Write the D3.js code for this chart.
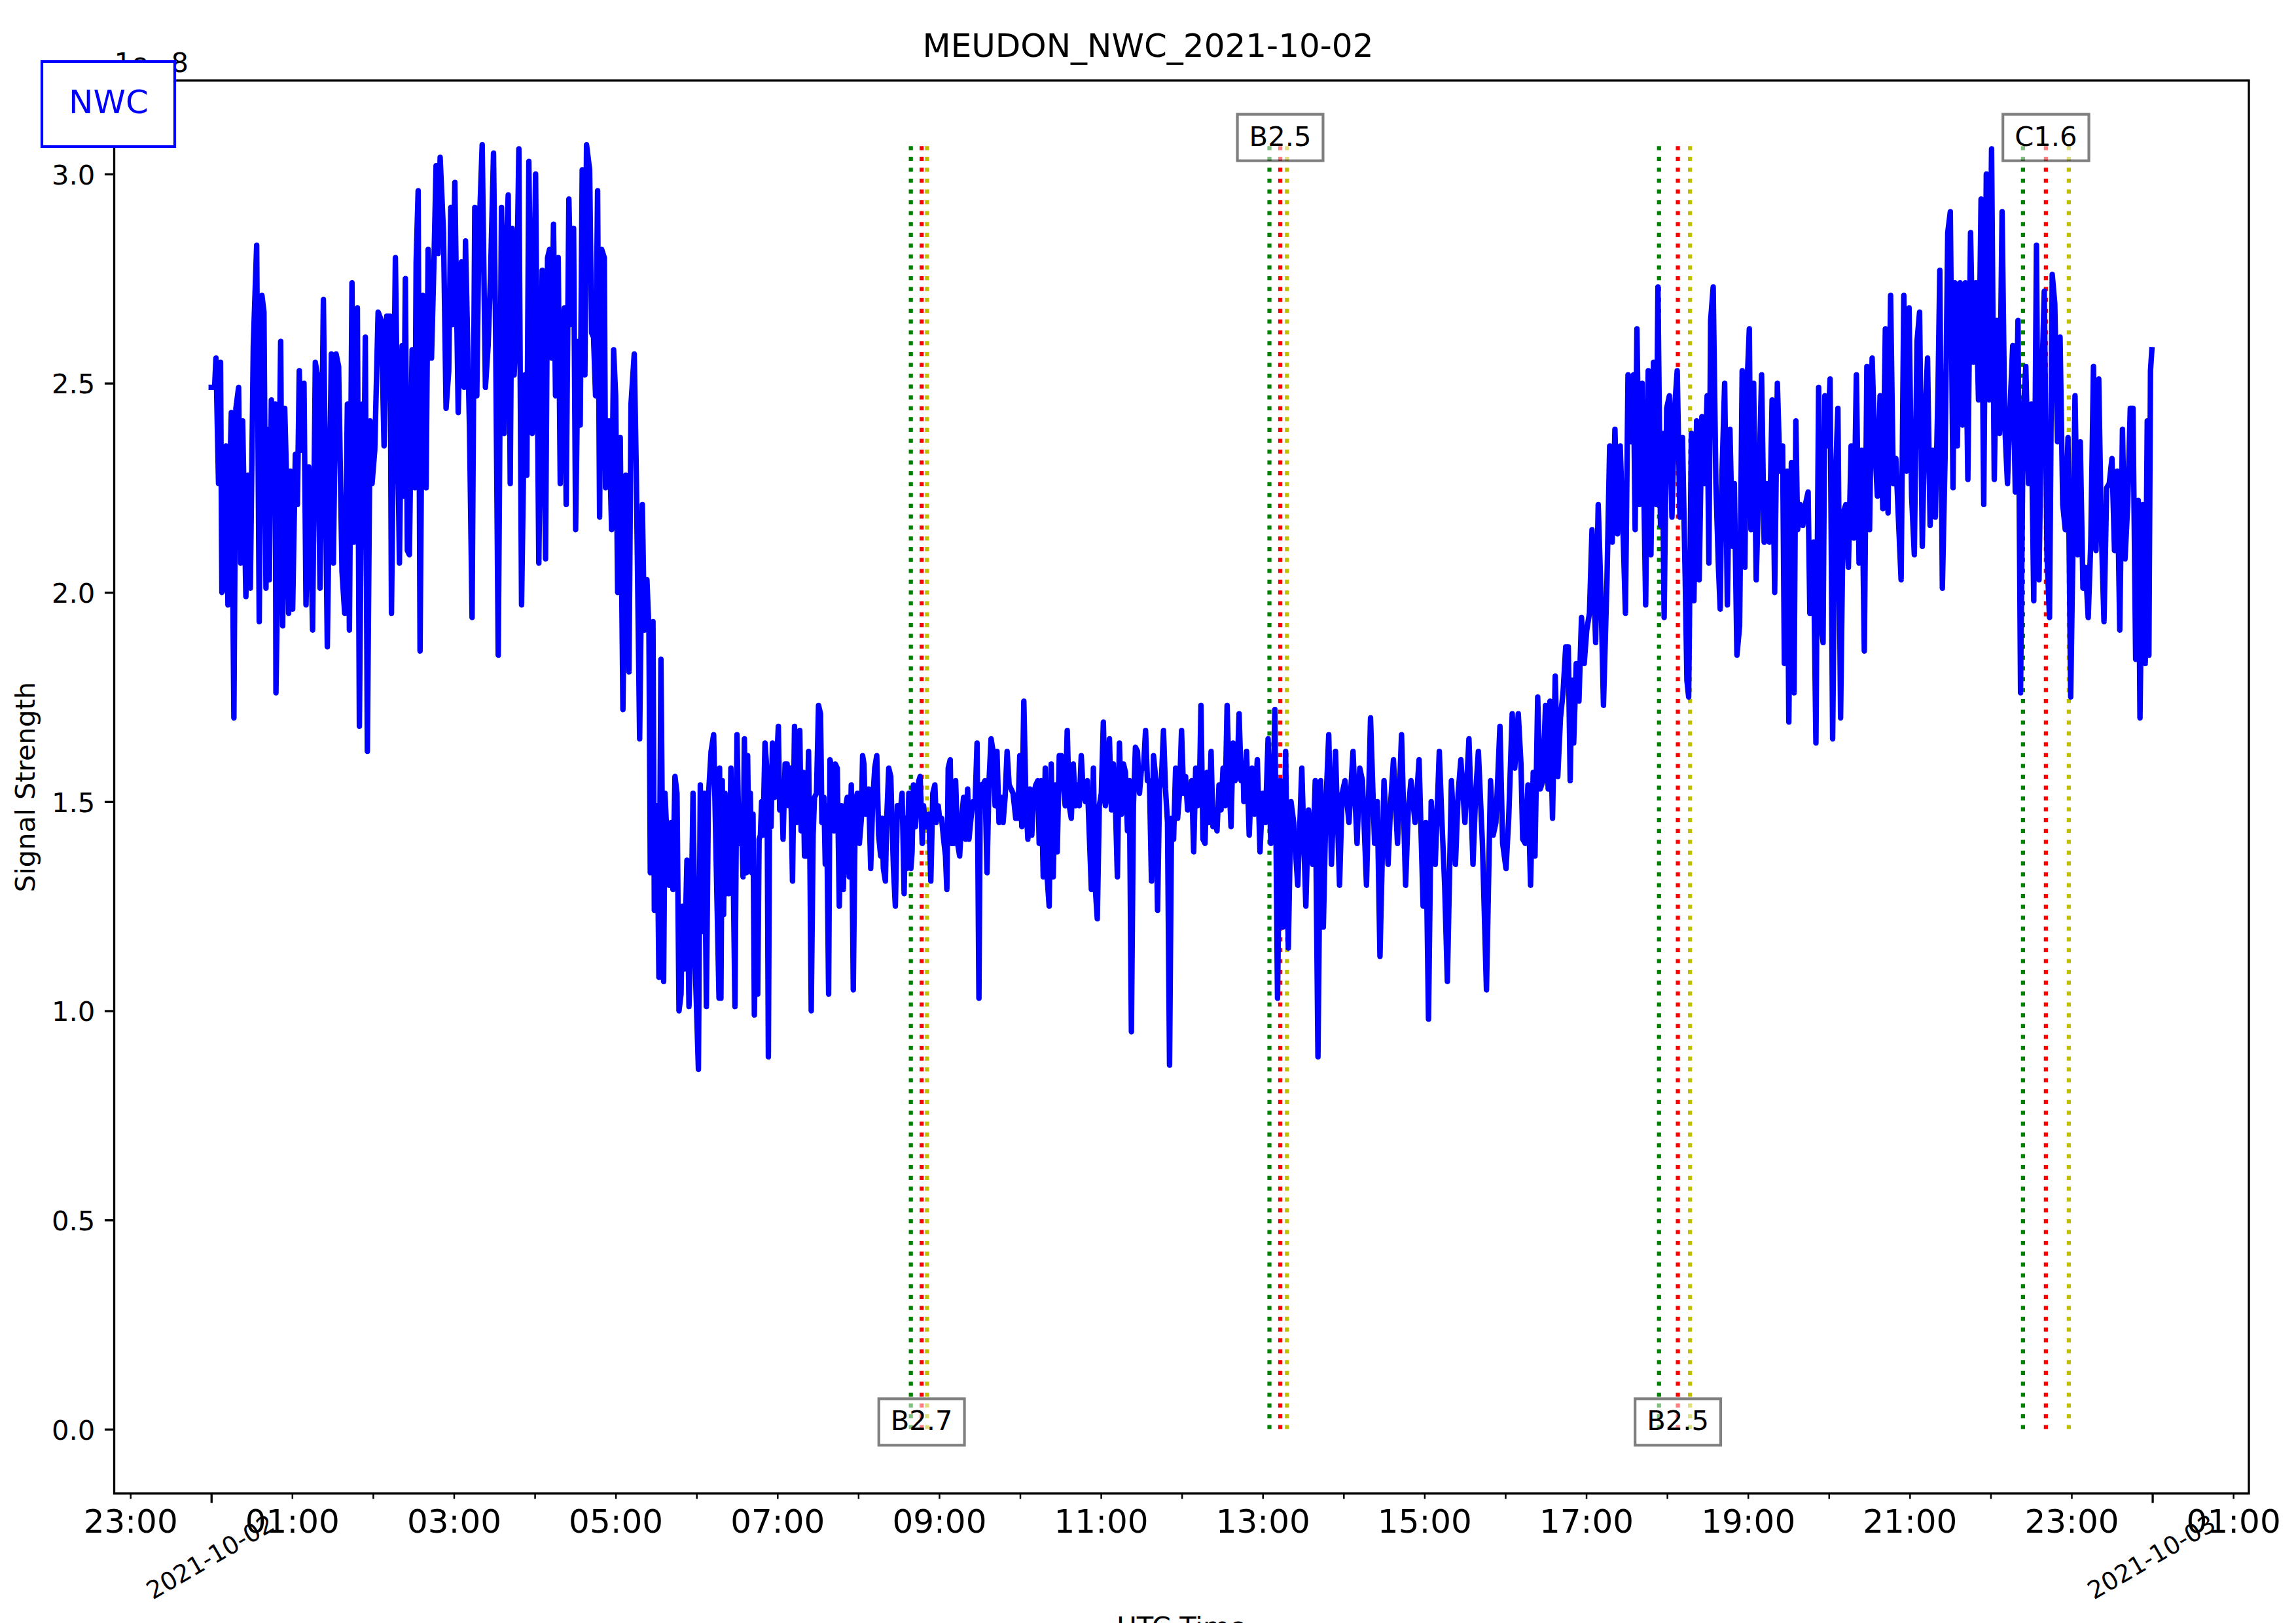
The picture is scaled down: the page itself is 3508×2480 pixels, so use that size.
<!DOCTYPE html>
<html>
<head>
<meta charset="utf-8">
<script src="https://cdn.jsdelivr.net/npm/d3@7"></script>
<style>
  html, body { margin: 0; padding: 0; background: #ffffff; }
  svg { display: block; }
  text { font-family: "DejaVu Sans", "Liberation Sans", sans-serif; }
</style>
</head>
<body>
<svg id="chart" width="3508" height="2480"></svg>
<script>
// ---------------- DATA ----------------
const chartTitle = "MEUDON_NWC_2021-10-02";
const stationName = "NWC";
const dayStartUTC = "2021-10-02T00:00:00Z";
const xAxisLabel = "UTC Time";
const yAxisLabel = "Signal Strength";
const yOffsetLabel = "1e\u22128";
const yTickValues = [0.0, 0.5, 1.0, 1.5, 2.0, 2.5, 3.0];

// samples: [minutes after 00:00 UTC, signal in units of 1e-8]
const samplesNight = [
[0,2.49],[2.5,2.49],[3.5,2.56],[4.5,2.40],[5.4,2.26],[6.9,2.55],[7.9,2.00],[9.4,2.01],[10.9,2.35],[12.4,1.97],
[13.4,2.23],[14.9,2.43],[16.8,1.70],[18.3,2.44],[20.3,2.49],[21.8,2.07],[23.3,2.41],[25.7,1.99],[27.2,2.28],[29.0,2.01],
[31.2,2.59],[33.7,2.83],[35.6,1.93],[37.6,2.71],[39.1,2.67],[40.6,2.01],[41.6,2.39],[43.1,2.03],[44.6,2.46],[46.0,2.28],
[47.5,2.45],[48.0,1.76],[50.0,2.19],[51.5,2.60],[53.0,1.92],[54.5,2.44],[56.2,2.23],[57.4,1.95],[58.7,2.29],[60.4,1.96],
[62.4,2.33],[63.9,2.21],[65.3,2.53],[66.8,2.34],[68.8,2.50],[70.3,1.97],[72.3,2.30],[73.8,2.13],[75.2,1.91],[77.2,2.55],
[78.7,2.52],[80.7,2.01],[83.2,2.70],[86.1,1.87],[89.1,2.57],[90.6,2.07],[92.6,2.57],[94.5,2.54],[97.0,2.05],[99.0,1.95],
[101.0,2.45],[102.5,1.91],[104.4,2.74],[105.9,2.12],[108.4,2.68],[109.9,1.68],[111.9,2.45],[112.9,2.15],[114.3,2.61],[115.8,1.62],
[117.8,2.41],[119.3,2.26],[121.3,2.34],[123.8,2.67],[126.2,2.65],[128.2,2.35],[130.2,2.66],[132.7,2.66],[133.7,1.95],[136.6,2.80],
[139.6,2.07],[141.6,2.59],[142.6,2.23],[144.0,2.75],[145.5,2.10],[147.0,2.09],[149.0,2.58],[151.0,2.25],[152.0,2.79],[153.5,2.96],
[154.9,1.86],[156.9,2.71],[159.4,2.25],[160.9,2.82],[163.4,2.56],[165.3,2.80],[166.8,3.02],[168.3,2.81],[169.8,3.04],[172.3,2.86],
[174.2,2.44],[176.2,2.53],[177.7,2.92],[179.2,2.64],[180.7,2.98],[183.2,2.43],[185.6,2.79],[187.6,2.49],[188.6,2.84],[191.6,2.39],
[193.5,1.94],[195.5,2.92],[197.0,2.47],[198.5,2.84],[201.0,3.07],[203.4,2.49],[205.4,2.59],[207.2,2.76],[209.4,3.05],[210.9,2.64],
[212.9,1.85],[215.3,2.92],[217.3,2.38],[218.8,2.81],[220.3,2.95],[221.8,2.26],[223.2,2.87],[224.7,2.52],[226.2,2.63],[228.2,3.06],
[230.2,1.97],[232.7,2.52],[234.1,2.28],[235.6,3.03],[238.1,2.38],[240.6,3.00],[243.0,2.07],[245.5,2.77],[248.0,2.08],[249.5,2.80],
[251.0,2.82],[252.5,2.56],[253.9,2.88],[255.4,2.47],[257.4,2.80],[258.9,2.26],[260.4,2.58],[261.9,2.68],[263.3,2.21],[265.3,2.94],
[267.3,2.64],[268.8,2.87],[270.3,2.15],[272.2,2.60],[273.7,2.40],[275.2,3.01],[277.2,2.52],[278.4,3.07],[280.7,3.01],[282.2,2.62],
[283.6,2.61],[285.1,2.47],[286.6,2.96],[288.1,2.18],[289.6,2.82],[291.6,2.80],[292.5,2.25],[295.0,2.41],[297.0,2.15],[298.5,2.58],
[300.0,2.47],[301.5,2.00],[303.4,2.37],[305.4,1.72],[307.4,2.28],[309.9,1.81],[311.4,2.45],[313.8,2.57],[315.3,2.29],[317.8,1.65],
[319.8,2.21],[321.3,1.91],[323.2,2.03],[324.7,1.91],[325.7,1.33],[327.7,1.93],[328.7,1.24],[330.7,1.49],[332.1,1.08],[333.6,1.84],
[335.6,1.07],[336.6,1.52],[339.6,1.30],[341.1,1.45],[342.5,1.29],[344.0,1.56],[345.5,1.52],[347.0,1.00],[348.5,1.04],[349.5,1.25],
[351.0,1.10],[352.9,1.36],[354.4,1.01],[355.9,1.19],[357.4,1.52],[359.4,1.07],[361.4,0.86],[362.8,1.54],[364.3,1.19],[365.8,1.52],
[367.3,1.01],[368.8,1.51],[370.8,1.62],[372.7,1.66],[374.7,1.34],[376.7,1.03]
];

const samplesMorning = [
[377.1,1.58],[378.1,1.03],[379.1,1.55],[380.1,1.23],[381.1,1.52],[382.1,1.28],[383.1,1.49],[384.0,1.28],[385.5,1.58],[387.0,1.39],
[388.5,1.01],[390.0,1.66],[391.5,1.40],[393.0,1.49],[394.5,1.32],[395.5,1.65],[397.0,1.33],[397.9,1.61],[398.9,1.36],[399.9,1.52],
[400.9,1.33],[401.9,1.47],[402.9,0.99],[403.9,1.23],[405.4,1.04],[406.4,1.41],[407.4,1.42],[408.3,1.50],[409.3,1.42],[410.8,1.64],
[412.3,1.57],[413.3,0.89],[414.3,1.57],[415.3,1.44],[416.3,1.64],[417.8,1.51],[419.3,1.58],[420.7,1.68],[421.7,1.48],[423.2,1.54],
[424.2,1.41],[425.7,1.59],[427.2,1.59],[428.2,1.49],[429.7,1.58],[431.2,1.31],[432.7,1.68],[434.1,1.45],[435.6,1.61],[436.6,1.67],
[437.6,1.43],[439.1,1.57],[440.1,1.37],[441.6,1.37],[443.1,1.62],[444.1,1.37],[445.1,1.00],[446.5,1.42],[447.5,1.51],[449.0,1.52],
[450.5,1.73],[452.0,1.71],[453.0,1.45],[454.5,1.51],[455.5,1.35],[456.5,1.49],[458.0,1.04],[459.0,1.60],[460.4,1.58],[461.9,1.43],
[462.9,1.59],[464.4,1.58],[465.9,1.25],[467.4,1.49],[468.9,1.29],[470.3,1.48],[471.8,1.51],[473.3,1.32],[474.8,1.54],[476.3,1.05],
[477.8,1.50],[479.3,1.52],[480.8,1.40],[482.3,1.46],[483.2,1.61],[484.2,1.59],[485.2,1.47],[486.7,1.50],[487.7,1.53],[489.2,1.34],
[490.7,1.50],[492.2,1.58],[493.7,1.61],[495.1,1.42],[496.6,1.37],[497.6,1.46],[498.6,1.34],[500.1,1.31],[501.1,1.46],[502.6,1.58],
[504.1,1.56],[505.1,1.44],[506.1,1.34],[507.5,1.25],[509.0,1.49],[510.0,1.49],[511.0,1.47],[512.5,1.52],[514.0,1.28],[515.0,1.46],
[516.0,1.34],[517.5,1.52],[519.0,1.34],[519.9,1.38],[520.9,1.54],[522.4,1.44],[523.4,1.50],[524.9,1.55],[525.9,1.56],[527.4,1.40],
[528.4,1.49],[529.9,1.44],[530.9,1.46],[532.4,1.47],[533.8,1.31],[535.3,1.52],[536.8,1.54],[537.8,1.45],[539.3,1.49],[540.3,1.46],
[541.8,1.46],[543.3,1.41],[544.7,1.37],[545.7,1.29],[546.7,1.58],[548.2,1.60],[549.2,1.40],[550.7,1.40],[552.2,1.55],[553.7,1.40],
[555.2,1.37],[556.7,1.46],[558.1,1.51],[559.6,1.41],[561.1,1.53],[562.1,1.41],[563.6,1.46],[565.1,1.50],[566.6,1.49],[568.1,1.64],
[569.5,1.03],[570.5,1.54],[572.5,1.54],[574.0,1.55],[575.5,1.33],[577.0,1.55],[578.5,1.65],[580.0,1.62],[581.5,1.49],[582.9,1.62],
[584.4,1.45],[585.9,1.51],[587.4,1.45],[588.9,1.51],[590.4,1.62],[591.9,1.54],[593.4,1.53],[594.8,1.52],[596.8,1.46],[598.3,1.46],
[599.8,1.61],[601.3,1.44],[602.8,1.74],[604.3,1.51],[605.8,1.41],[607.2,1.53],[608.7,1.42],[610.2,1.52],[611.7,1.54],[613.2,1.55],
[614.2,1.40],[615.7,1.55],[617.2,1.32],[618.7,1.58],[620.1,1.32],[621.6,1.25],[623.1,1.59],[624.6,1.32],[626.1,1.54],[627.6,1.38],
[629.1,1.61],[630.6,1.61],[632.0,1.55],[633.5,1.49],[635.0,1.67],[636.5,1.49],[638.0,1.46],[639.5,1.59],[641.0,1.49],[642.5,1.54],
[643.9,1.49],[645.4,1.61],[646.9,1.52],[648.4,1.50],[649.9,1.55],[651.4,1.42],[652.9,1.29],[654.4,1.58],[655.9,1.29],[657.3,1.22],
[658.8,1.49],[660.3,1.52],[661.8,1.69],[663.3,1.49],[664.8,1.53],[666.3,1.65],[667.8,1.48],[669.2,1.59],[670.7,1.50],[672.2,1.32],
[673.7,1.64],[675.2,1.47],[676.7,1.59],[678.2,1.57],[679.7,1.43],[681.1,1.55],[682.6,0.95],[684.1,1.49],[685.6,1.63],[687.1,1.62],
[688.6,1.52],[690.1,1.58],[691.6,1.58],[693.1,1.67],[694.5,1.55],[696.0,1.55],[697.5,1.31],[699.0,1.61],[700.5,1.56],[702.0,1.24],
[703.5,1.53],[705.0,1.56],[706.4,1.67],[707.9,1.53],[709.4,1.45],[710.9,0.87],[712.4,1.46],[713.9,1.41],[715.4,1.58],[716.9,1.46],
[718.3,1.52],[719.8,1.67],[721.3,1.52],[722.8,1.56],[724.3,1.48],[725.8,1.50],[727.3,1.55],[728.8,1.38],[730.3,1.58],[731.7,1.49],
[733.2,1.55],[734.2,1.73],[735.7,1.41],[737.2,1.40],[738.7,1.57],[740.2,1.45],[741.7,1.62],[743.1,1.44],[744.6,1.48],[746.1,1.43],
[747.6,1.54],[749.1,1.48],[750.6,1.58],[752.1,1.49],[753.6,1.73],[755.1,1.55],[756.5,1.44],[758.0,1.64],[759.5,1.55],[761.0,1.56],
[762.5,1.71],[764.0,1.55],[765.5,1.58]
];

const samplesAfternoon = [
[766,1.50],[768,1.62],[770,1.42],[772,1.58],[774,1.47],[776,1.60],[778,1.38],[780,1.52],[782,1.45],[784,1.65],
[786,1.40],[788,1.55],[789,1.72],[791,1.03],[793,1.55],[795,1.20],[797,1.62],[799,1.15],[801,1.50],[803,1.45],
[806,1.30],[809,1.58],[812,1.25],[814,1.48],[817,1.35],[819,1.55],[821,0.89],[823,1.55],[825,1.20],[827,1.50],
[829,1.66],[831,1.35],[834,1.62],[837,1.30],[839,1.52],[841,1.55],[844,1.45],[847,1.62],[850,1.40],[852,1.58],
[854,1.55],[857,1.30],[860,1.70],[863,1.40],[865,1.50],[867,1.13],[870,1.55],[873,1.35],[875,1.50],[877,1.60],
[880,1.40],[883,1.66],[886,1.30],[888,1.48],[890,1.55],[893,1.45],[896,1.60],[899,1.25],[901,1.45],[903,0.98],
[905,1.50],[908,1.35],[911,1.62],[913,1.45],[915,1.30],[917,1.07],[920,1.55],[923,1.35],[925,1.52],[927,1.60],
[930,1.45],[933,1.65],[936,1.35],[938,1.52],[940,1.62],[943,1.40],[946,1.05],[949,1.55],[951,1.42],[953,1.45],
[956,1.68],[958,1.40]
];

const samplesEvening = [
[960.5,1.34],[962.5,1.46],[965.1,1.71],[967.0,1.58],[969.6,1.71],[971.6,1.59],[972.9,1.41],[974.8,1.40],[976.8,1.54],[978.7,1.30],
[980.7,1.57],[982.0,1.37],[984.0,1.75],[985.9,1.53],[987.9,1.55],[989.8,1.73],[991.8,1.53],[993.1,1.74],[995.0,1.46],[997.0,1.80],
[998.9,1.56],[1000.9,1.70],[1002.8,1.76],[1004.8,1.87],[1006.7,1.87],[1008.1,1.55],[1009.4,1.79],[1010.7,1.64],[1012.6,1.83],[1014.6,1.74],
[1016.5,1.94],[1018.5,1.83],[1020.4,1.91],[1022.4,1.95],[1024.3,2.15],[1027.0,1.88],[1028.9,2.21],[1030.9,2.00],[1032.8,1.73],[1035.4,2.03],
[1037.4,2.35],[1039.3,2.12],[1041.3,2.39],[1043.2,2.14],[1045.2,2.35],[1047.1,2.17],[1049.1,1.95],[1051.0,2.52],[1053.0,2.36],[1055.0,2.52],
[1056.3,2.15],[1057.6,2.63],[1059.5,2.21],[1061.5,2.50],[1064.1,1.97],[1066.0,2.53],[1068.0,2.09],[1069.9,2.55],[1071.9,2.21],[1073.2,2.73],
[1075.1,2.16],[1076.4,2.38],[1077.8,1.94],[1079.7,2.44],[1081.7,2.47],[1083.6,2.18],[1085.6,2.44],[1087.5,2.53],[1089.5,2.18],[1091.4,2.37],
[1093.4,2.04],[1094.7,1.79],[1096.0,1.75],[1098.0,2.38],[1099.9,1.98],[1101.9,2.41],[1103.8,2.03],[1105.8,2.42],[1107.7,2.26],[1109.7,2.47],
[1111.0,2.07],[1112.3,2.65],[1114.2,2.73],[1116.2,2.26],[1118.1,2.06],[1119.4,1.96],[1120.7,2.28],[1122.7,2.50],[1124.7,1.97],[1126.6,2.39],
[1128.6,2.11],[1129.9,2.26],[1131.8,1.85],[1133.8,1.92],[1135.7,2.53],[1137.7,2.06],[1139.0,2.47],[1141.0,2.63],[1142.2,2.15],[1144.2,2.50],
[1146.1,2.03],[1148.1,2.26],[1150.1,2.52],[1152.0,2.12],[1154.0,2.26],[1155.9,2.12],[1157.9,2.46],[1159.8,2.00],[1161.8,2.50],[1163.7,2.29],
[1165.7,2.35],[1167.0,1.83],[1169.0,2.29],[1170.3,1.69],[1172.2,2.31],[1174.2,1.76],[1175.5,2.41],[1176.8,2.15],[1178.7,2.21],[1180.7,2.16],
[1182.6,2.21],[1184.6,2.24],[1185.9,1.95],[1188.5,2.12],[1190.4,1.64],[1192.4,2.49],[1194.4,1.92],[1195.7,1.88],[1197.0,2.47],[1198.9,2.35],
[1200.9,2.51],[1202.8,1.65],[1204.8,2.26],[1206.7,2.44],[1208.7,1.70],[1210.6,2.19],[1212.6,2.21],[1214.5,2.06],[1216.5,2.35],[1218.5,2.13],
[1220.4,2.52],[1222.4,2.07],[1224.3,2.34],[1226.3,1.86],[1228.2,2.54],[1230.2,2.15],[1232.1,2.56],[1234.1,2.35],[1236.0,2.23],[1238.0,2.47],
[1240.0,2.20],[1241.9,2.63],[1243.9,2.19],[1245.8,2.71],[1247.8,2.26],[1249.7,2.32],[1251.7,2.17],[1253.6,2.03],[1255.6,2.71],[1257.5,2.29],
[1259.5,2.68],[1261.4,2.23],[1263.4,2.09],[1265.4,2.60],[1267.3,2.67],[1269.3,2.11],[1271.2,2.41],[1273.2,2.56],[1275.1,2.16],[1277.1,2.34],
[1279.0,2.18],[1281.0,2.49],[1282.3,2.77],[1284.2,2.01],[1286.2,2.32],[1288.2,2.86],[1290.1,2.91],[1292.1,2.25],[1293.4,2.74],[1295.3,2.35],
[1297.3,2.74],[1299.2,2.40],[1301.2,2.74],[1303.1,2.27],[1305.1,2.86],[1307.0,2.55],[1309.0,2.74],[1311.0,2.46],[1312.9,2.94],[1314.9,2.21],
[1316.8,3.00],[1318.8,2.46],[1320.7,3.06],[1322.7,2.27],[1324.6,2.65],[1326.6,2.38],[1328.5,2.91],[1330.5,2.40],[1332.5,2.26],[1334.4,2.44],
[1336.4,2.59],[1338.3,2.24],[1340.3,2.65],[1342.2,1.76],[1344.2,2.42],[1346.1,2.54],[1348.1,2.26],[1350.0,2.45],[1352.0,1.98],[1354.0,2.83],
[1355.9,2.03],[1357.9,2.49],[1359.8,2.72],[1361.8,2.09],[1363.7,1.94],[1365.7,2.76],[1367.6,2.69],[1369.6,2.36],[1371.5,2.61],[1373.5,2.21],
[1375.4,2.15],[1377.4,2.37],[1379.4,1.75],[1381.3,2.16],[1382.6,2.47],[1384.6,2.09],[1386.5,2.36],[1388.5,2.01],[1390.4,2.06],[1392.4,1.94],
[1394.3,2.12],[1396.3,2.54],[1398.2,2.10],[1400.2,2.51],[1402.1,2.15],[1404.1,1.93],[1406.1,2.25],[1408.0,2.26],[1410.0,2.32],[1411.9,2.10],
[1413.9,2.29],[1415.8,1.91],[1417.8,2.39],[1419.7,2.08],[1421.7,2.21],[1423.6,2.44],[1425.6,2.44],[1427.6,1.84],[1429.5,2.22],[1430.8,1.70],
[1432.8,2.21],[1434.7,1.83],[1436.2,2.41],[1437.4,1.85],[1438.6,2.53],[1439.6,2.58]
];

// solar flares (GOES class, start / peak / end, UTC)
const flareClass = ["B2.7", "B2.5", "B2.5", "C1.6"];
const flareStart = ["08:39", "13:05", "17:54", "22:24"];
const flarePeak  = ["08:47", "13:13", "18:08", "22:41"];
const flareEnd   = ["08:51", "13:18", "18:17", "22:58"];

// ---------------- LAYOUT ----------------
const W = 3508, H = 2480;
const PT = 300 / 72;                // 1 pt in px at 300 dpi
const L = 174.5, R = 3436, T = 123, B = 2282;
const colors = { line: "#0000ff", start: "#008000", peak: "#ff0000", end: "#bfbf00" };

const svg = d3.select("#chart");
svg.append("rect").attr("width", W).attr("height", H).attr("fill", "#ffffff");

const t0 = Date.parse(dayStartUTC);
const toDate = m => new Date(t0 + m * 60000);
const hm = s => { const [h, m] = s.split(":").map(Number); return toDate(h * 60 + m); };

const data = [].concat(samplesNight, samplesMorning, samplesAfternoon, samplesEvening)
  .map(([m, v]) => ({ t: toDate(m), v }));

// matplotlib-like auto limits with 5% margins
const tExt = d3.extent(data, d => +d.t);
const tPad = 0.05 * (tExt[1] - tExt[0]);
const x = d3.scaleUtc()
  .domain([new Date(tExt[0] - tPad), new Date(tExt[1] + tPad)])
  .range([L, R]);

const vMax = d3.max(data, d => d.v);
const vMin = Math.min(0, d3.min(data, d => d.v));
const vPad = 0.05 * (vMax - vMin);
const y = d3.scaleLinear().domain([vMin - vPad, vMax + vPad]).range([B, T]);

const defs = svg.append("defs");
defs.append("clipPath").attr("id", "plotclip")
  .append("rect").attr("x", L).attr("y", T).attr("width", R - L).attr("height", B - T);

const plot = svg.append("g").attr("clip-path", "url(#plotclip)");

// flare vertical dotted lines (drawn first, under the signal)
const lw = 1.5 * PT;
const flares = flareClass.map((c, i) => ({
  cls: c, start: hm(flareStart[i]), peak: hm(flarePeak[i]), end: hm(flareEnd[i]), i
}));
flares.forEach(f => {
  [["start", colors.start], ["peak", colors.peak], ["end", colors.end]].forEach(([k, col]) => {
    plot.append("line")
      .attr("x1", x(f[k])).attr("x2", x(f[k]))
      .attr("y1", y(0)).attr("y2", y(vMax))
      .attr("stroke", col).attr("stroke-width", lw)
      .attr("stroke-dasharray", `${lw} ${1.65 * lw}`)
      .attr("stroke-linecap", "butt");
  });
});

// signal line
plot.append("path")
  .datum(data)
  .attr("d", d3.line().x(d => x(d.t)).y(d => y(d.v)))
  .attr("fill", "none")
  .attr("stroke", colors.line)
  .attr("stroke-width", 2 * PT)
  .attr("stroke-linejoin", "round")
  .attr("stroke-linecap", "square");

// flare labels, alternating bottom / top
flares.forEach(f => {
  const ay = (f.i % 2 === 0) ? y(0) : y(vMax);
  const cx = x(f.peak);
  const g = svg.append("g");
  const box = g.append("rect");
  const txt = g.append("text")
    .attr("x", cx).attr("y", ay + 1.5)
    .attr("text-anchor", "middle")
    .attr("font-size", 10 * PT)
    .attr("fill", "#000")
    .text(f.cls);
  const tw = txt.node().getComputedTextLength();
  const bw = tw + 36, top = ay - 48.5 + 2, bh = 75 - 4;
  box.attr("x", cx - bw / 2).attr("y", top).attr("width", bw).attr("height", bh)
    .attr("fill", "#ffffff").attr("fill-opacity", 0.5)
    .attr("stroke", "#000000").attr("stroke-opacity", 0.5)
    .attr("stroke-width", PT);
});

// ---------------- AXES ----------------
const allHours = d3.utcHour.every(1).range(x.domain()[0], x.domain()[1]);
const minorHours = allHours.filter(d => d.getUTCHours() !== 0);
const midnights = allHours.filter(d => d.getUTCHours() === 0);

const gxMinor = svg.append("g").attr("transform", `translate(0,${B})`)
  .call(d3.axisBottom(x).tickValues(minorHours).tickSize(2 * PT)
    .tickFormat(d => d.getUTCHours() % 2 === 1 ? d3.utcFormat("%H:%M")(d) : ""));
gxMinor.select(".domain").remove();
gxMinor.selectAll(".tick line").attr("stroke", "#000").attr("stroke-width", 0.6 * PT);
gxMinor.selectAll(".tick text")
  .attr("font-size", 12 * PT).attr("font-family", "DejaVu Sans")
  .attr("fill", "#000").attr("y", 60).attr("dy", 0);

const gxMajor = svg.append("g").attr("transform", `translate(0,${B})`)
  .call(d3.axisBottom(x).tickValues(midnights).tickSize(3.5 * PT).tickFormat(""));
gxMajor.select(".domain").remove();
gxMajor.selectAll(".tick line").attr("stroke", "#000").attr("stroke-width", 0.8 * PT);

// rotated date labels on major ticks
const dateFmt = d3.utcFormat("%Y-%m-%d");
midnights.forEach(d => {
  const fs = 9 * PT;
  const g = svg.append("g");
  const t = g.append("text").attr("font-size", fs).attr("text-anchor", "middle")
    .attr("fill", "#000").text(dateFmt(d));
  const w = t.node().getComputedTextLength();
  const h = 0.97 * fs;
  const rh = w * Math.sin(Math.PI / 6) + h * Math.cos(Math.PI / 6);
  const cy = B + 3.5 * PT + 3.5 * PT + rh / 2;
  g.attr("transform", `translate(${x(d)},${cy}) rotate(-30)`);
  t.attr("dy", 0.275 * fs);
});

const gy = svg.append("g").attr("transform", `translate(${L},0)`)
  .call(d3.axisLeft(y).tickValues(yTickValues).tickSize(3.5 * PT).tickPadding(3.5 * PT)
    .tickFormat(d3.format(".1f")));
gy.select(".domain").remove();
gy.selectAll(".tick line").attr("stroke", "#000").attr("stroke-width", 0.8 * PT);
gy.selectAll(".tick text")
  .attr("font-size", 10 * PT).attr("font-family", "DejaVu Sans")
  .attr("fill", "#000").attr("dy", 0.3645 * 10 * PT);

// spines
svg.append("rect").attr("x", L).attr("y", T).attr("width", R - L).attr("height", B - T)
  .attr("fill", "none").attr("stroke", "#000").attr("stroke-width", 0.8 * PT);

// axis labels
svg.append("text").attr("x", (L + R) / 2).attr("y", 2500)
  .attr("text-anchor", "middle").attr("font-size", 10 * PT).text(xAxisLabel);
svg.append("text").attr("transform", `translate(52.6,${(T + B) / 2}) rotate(-90)`)
  .attr("text-anchor", "middle").attr("font-size", 10 * PT).text(yAxisLabel);

// offset text
svg.append("text").attr("x", L).attr("y", 110)
  .attr("font-size", 10 * PT).text(yOffsetLabel);

// title (figure-centred)
svg.append("text").attr("x", W / 2).attr("y", 87)
  .attr("text-anchor", "middle").attr("font-size", 12 * PT).text(chartTitle);

// station box
svg.append("rect").attr("x", 64).attr("y", 94).attr("width", 203).attr("height", 130)
  .attr("fill", "#ffffff").attr("stroke", colors.line).attr("stroke-width", PT);
svg.append("text").attr("x", 166).attr("y", 173).attr("text-anchor", "middle")
  .attr("font-size", 12 * PT).attr("fill", colors.line).text(stationName);
</script>
</body>
</html>
